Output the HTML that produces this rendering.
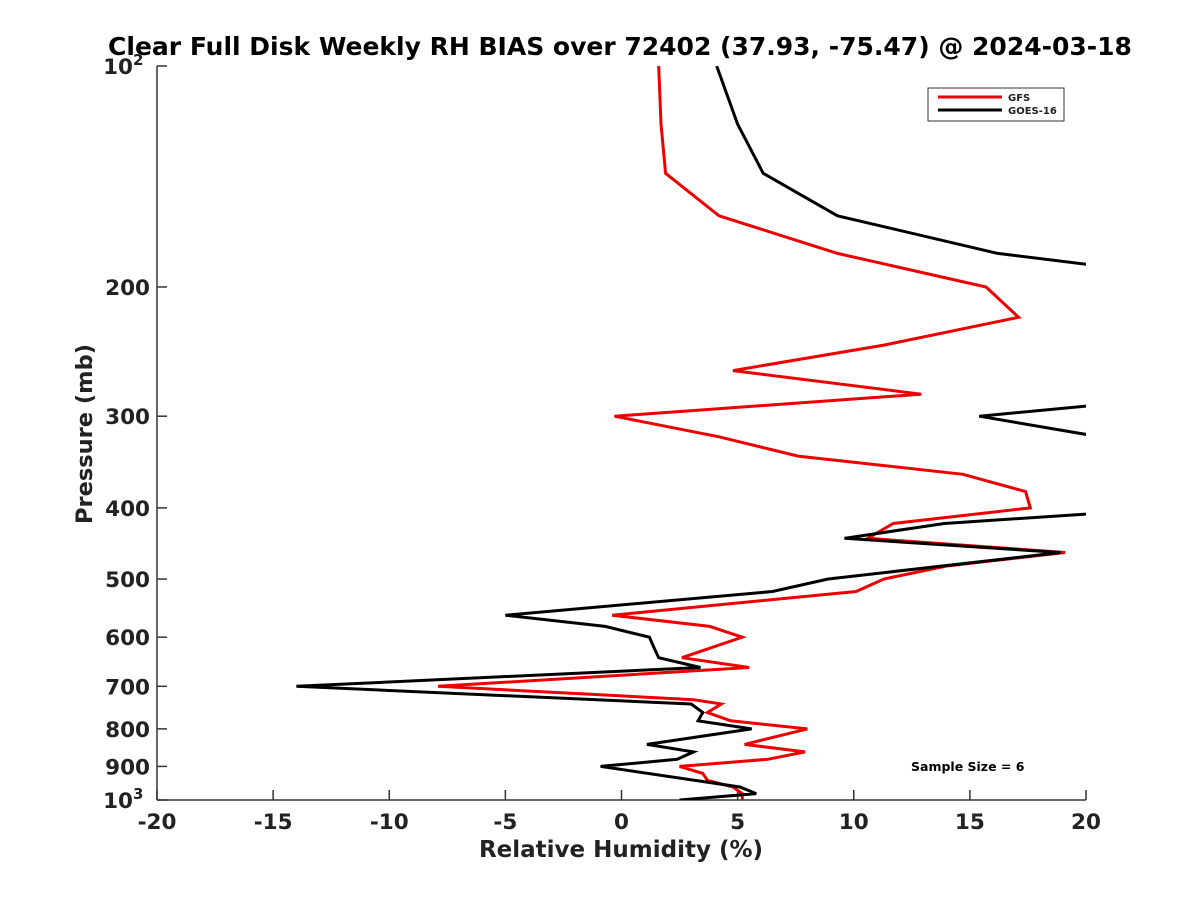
<!DOCTYPE html>
<html><head><meta charset="utf-8"><style>
body{margin:0;background:#fff;width:1200px;height:900px;overflow:hidden}
svg{display:block;font-family:"DejaVu Sans","Liberation Sans",sans-serif;font-weight:bold}
</style></head><body>
<svg id="chart" width="1200" height="900">
<defs><clipPath id="clip"><rect x="157" y="66" width="929" height="734"/></clipPath></defs>
<text x="620" y="55" text-anchor="middle" font-size="25" fill="#000">Clear Full Disk Weekly RH BIAS over 72402 (37.93, -75.47) @ 2024-03-18</text>
<g id="axes"></g>
<g id="series" clip-path="url(#clip)"></g>
<g>
<rect x="928" y="88" width="136" height="33" fill="#fff" stroke="#333" stroke-width="1"/>
<line x1="938" y1="97" x2="1002" y2="97" stroke="#e00" stroke-width="3"/>
<text x="1008" y="101" font-size="10" fill="#222">GFS</text>
<line x1="938" y1="110" x2="1002" y2="110" stroke="#000" stroke-width="3"/>
<text x="1008" y="114" font-size="10" fill="#222">GOES-16</text>
</g>
<text x="911" y="771" font-size="12.5" fill="#000">Sample Size = 6</text>
<text x="621" y="857" text-anchor="middle" font-size="23" fill="#222">Relative Humidity (%)</text>
<text transform="translate(92,434) rotate(-90)" text-anchor="middle" font-size="22.5" fill="#222">Pressure (mb)</text>
</svg>
<script>
const xTicks=[-20,-15,-10,-5,0,5,10,15,20];
const yTicks=[100,200,300,400,500,600,700,800,900,1000];
const gfsP=[100,120,140,160,180,200,220,240,260,280,300,320,340,360,380,400,420,440,460,480,500,520,560,580,600,640,660,700,720,730,740,760,780,800,840,860,880,900,920,940,960,980,1000];
const gfsV=[1.6,1.7,1.9,4.2,9.3,15.7,17.1,11.3,4.8,12.9,-0.3,4.2,7.6,14.7,17.4,17.6,11.7,10.6,19.1,14,11.3,10.1,-0.4,3.8,5.2,2.6,5.5,-7.9,-0.5,3.1,4.3,3.7,4.7,8.0,5.3,7.9,6.3,2.5,3.5,3.7,4.8,5.2,5.2];
const goesP=[100,120,140,160,180,200,220,240,260,280,300,320,340,360,380,400,420,440,460,500,520,560,580,600,620,640,660,700,740,760,780,800,840,860,880,900,960,980,1000];
const goesV=[4.1,5.0,6.1,9.3,16.2,28,35,35,30,25.5,15.4,20.6,30,32,30,24,13.9,9.6,18.9,8.9,6.5,-5.0,-0.7,1.2,1.4,1.6,3.4,-14,3.0,3.5,3.3,5.6,1.1,3.1,2.4,-0.9,5.1,5.8,2.5];
const X0=157,X1=1086,Y0=66,Y1=800;
const xs=v=>X0+(v+20)/40*(X1-X0);
const ys=p=>Y0+(Math.log10(p)-2)*(Y1-Y0);
const NS='http://www.w3.org/2000/svg';
function mk(t,a,parent){const e=document.createElementNS(NS,t);for(const k in a)e.setAttribute(k,a[k]);parent.appendChild(e);return e;}
const axes=document.getElementById('axes');
let e=mk('line',{x1:X0,y1:Y0,x2:X0,y2:Y1,stroke:'#333','stroke-width':1.5},axes);


e=mk('line',{x1:X0,y1:Y1,x2:X1,y2:Y1,stroke:'#333','stroke-width':1.5},axes);


xTicks.forEach(v=>{
  mk('line',{x1:xs(v),y1:Y1,x2:xs(v),y2:Y1-10,stroke:'#333','stroke-width':1.5},axes);
  const t=mk('text',{x:xs(v),y:Y1+29,'text-anchor':'middle','font-size':21.5,fill:'#222'},axes);
  t.textContent=String(v);
  
  
});
yTicks.forEach(p=>{
  const y=ys(p);
  mk('line',{x1:X0,y1:y,x2:X0+10,y2:y,stroke:'#333','stroke-width':1.5},axes);
  const t=mk('text',{x:X0-7,y:y+8,'text-anchor':'end','font-size':21.5,fill:'#222'},axes);
  if(p===100||p===1000){
    t.setAttribute('x',X0-24);
    t.textContent='10';
    const s=mk('text',{x:X0-24,y:y-1,'text-anchor':'start','font-size':15,fill:'#222'},axes);
    s.textContent=p===100?'2':'3';
    
    
  } else t.textContent=String(p);
  
  
});
const ser=document.getElementById('series');
function line(P,V,color,name){
  const pts=P.map((p,i)=>xs(V[i]).toFixed(1)+','+ys(p).toFixed(1)).join(' ');
  const l=mk('polyline',{points:pts,fill:'none',stroke:color,'stroke-width':3,'stroke-linejoin':'miter'},ser);
  
  
}
line(gfsP,gfsV,'#e00','gfs-line');
line(goesP,goesV,'#000','goes16-line');
</script>
</body></html>
